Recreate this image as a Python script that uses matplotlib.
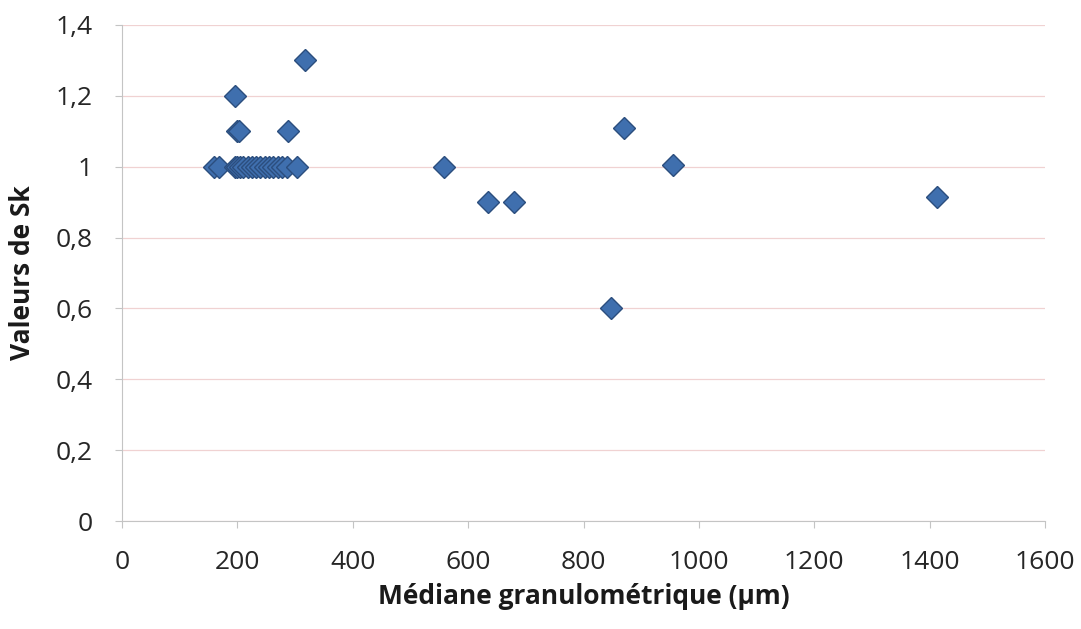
import numpy as np
import matplotlib
matplotlib.use('Agg')
import matplotlib.pyplot as plt

# median grain size (um) vs Sk values
mediane = [160, 168, 195, 200, 205, 210, 218, 225, 232, 240, 248, 255, 262,
           270, 278, 286, 303,
           199, 203, 287, 195, 318,
           558, 634, 680, 848, 871, 955, 1413]
sk = [1.0, 1.0, 1.0, 1.0, 1.0, 1.0, 1.0, 1.0, 1.0, 1.0, 1.0, 1.0, 1.0,
      1.0, 1.0, 1.0, 1.0,
      1.1, 1.1, 1.1, 1.2, 1.3,
      1.0, 0.9, 0.9, 0.6, 1.11, 1.005, 0.915]

yticks = [0, 0.2, 0.4, 0.6, 0.8, 1.0, 1.2, 1.4]
ytick_labels = ['0', '0,2', '0,4', '0,6', '0,8', '1', '1,2', '1,4']
xticks = [0, 200, 400, 600, 800, 1000, 1200, 1400, 1600]

plt.rcParams['font.family'] = ['Open Sans', 'DejaVu Sans']

fig = plt.figure(figsize=[10.81, 6.29], dpi=100)
ax = fig.add_axes([0.1129, 0.1717, 0.8538, 0.7886])

ax.plot(mediane, sk, linestyle='none', marker='D', markersize=11.5,
        markerfacecolor='#3F6FAE', markeredgecolor='#2B4E7E', markeredgewidth=1.0,
        zorder=3)

ax.set_xlim(0, 1600)
ax.set_ylim(0, 1.4)
ax.set_xticks(xticks)
ax.set_xticklabels([str(v) for v in xticks])
ax.set_yticks(yticks)
ax.set_yticklabels(ytick_labels)

ax.grid(axis='y', color='#F0D2D2', linewidth=0.9)
ax.set_axisbelow(True)

ax.spines['right'].set_color('none')
ax.spines['top'].set_color('none')
ax.spines['left'].set_color('#C4C4C4')
ax.spines['bottom'].set_color('#C4C4C4')
ax.tick_params(axis='both', direction='out', length=5, color='#C4C4C4',
               labelsize=19, labelcolor='#262626', pad=16)

ax.set_xlabel('Médiane granulométrique (µm)', fontsize=19, fontweight='bold',
              color='#1A1A1A', va='center')
ax.set_ylabel('Valeurs de Sk', fontsize=19, fontweight='bold',
              color='#1A1A1A', va='center')
ax.xaxis.set_label_coords(0.5, -0.153)
ax.yaxis.set_label_coords(-0.108, 0.5)

fig.savefig('out.png', dpi=100)
